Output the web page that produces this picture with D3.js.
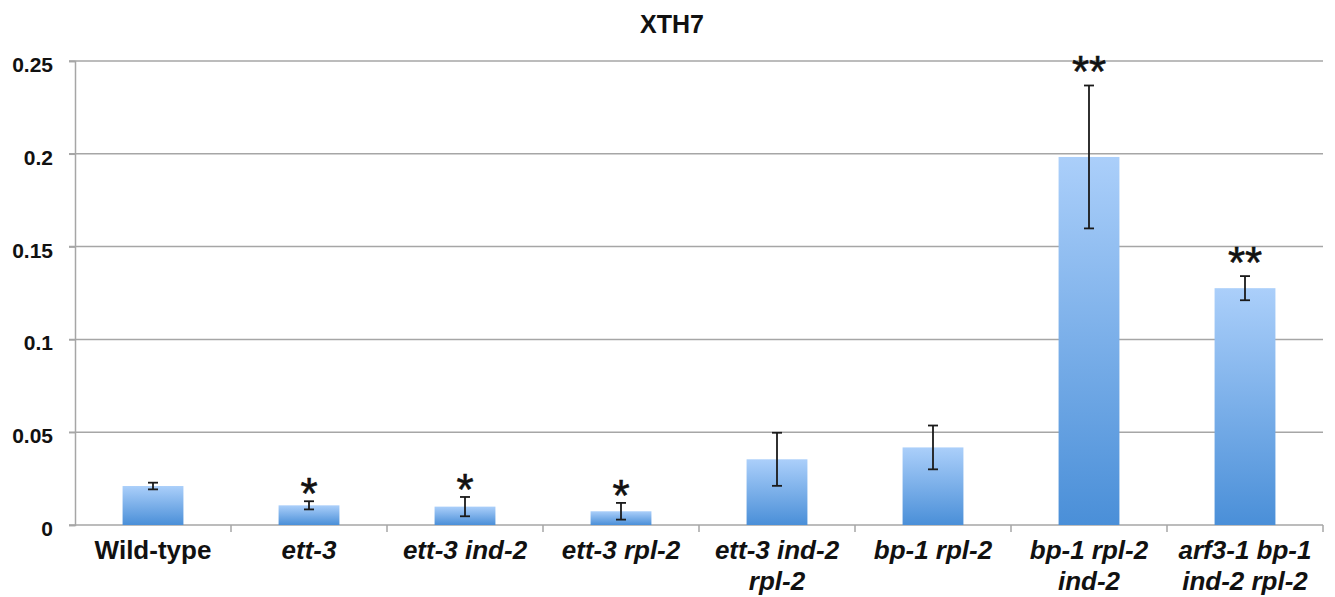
<!DOCTYPE html>
<html>
<head>
  <meta charset="utf-8">
  <title>XTH7</title>
  <script src="https://d3js.org/d3.v7.min.js"></script>
  <style>
    body { margin: 0; background: #fff; }
    text { font-family: "Liberation Sans", Arial, sans-serif; }
  </style>
</head>
<body>
<div id="vis"></div>
<script>
  // values
  var genotypes = ['Wild-type', 'ett-3', 'ett-3 ind-2', 'ett-3 rpl-2', 'ett-3 ind-2|rpl-2',
    'bp-1 rpl-2', 'bp-1 rpl-2|ind-2', 'arf3-1 bp-1|ind-2 rpl-2'];
  var means = [0.021, 0.0106, 0.0099, 0.0074, 0.0354, 0.0418, 0.1983, 0.1276];
  var errs = [0.0018, 0.0022, 0.0052, 0.0045, 0.0143, 0.0118, 0.0385, 0.0065];
  var stars = ['', '*', '*', '*', '', '', '**', '**'];
  var yTicks = [0, 0.05, 0.1, 0.15, 0.2, 0.25];
  var yTickLabels = ['0', '0.05', '0.1', '0.15', '0.2', '0.25'];

  var width = 1335, height = 597;
  var margin = { left: 75, right: 12, top: 61, bottom: 72 };

  var svg = d3.select('#vis')
    .append('svg')
    .attr('width', width)
    .attr('height', height);

  var defs = svg.append('defs');
  var grad = defs.append('linearGradient')
    .attr('id', 'barGrad')
    .attr('x1', 0).attr('y1', 0).attr('x2', 0).attr('y2', 1);
  grad.append('stop').attr('offset', '0%').attr('stop-color', '#abcffa');
  grad.append('stop').attr('offset', '100%').attr('stop-color', '#4a8fd8');

  var x = d3.scaleBand()
    .domain(genotypes)
    .range([margin.left, width - margin.right])
    .paddingInner(0.61)
    .paddingOuter(0.305);

  var xOuter = d3.scaleBand()
    .domain(genotypes)
    .range([margin.left, width - margin.right]);

  var y = d3.scaleLinear()
    .domain([0, 0.25])
    .range([height - margin.bottom, margin.top]);

  // gridlines
  svg.append('g')
    .selectAll('line')
    .data(yTicks.slice(1))
    .enter()
    .append('line')
    .attr('x1', margin.left - 6)
    .attr('x2', width - margin.right)
    .attr('y1', d => y(d))
    .attr('y2', d => y(d))
    .attr('stroke', '#a6a6a6')
    .attr('stroke-width', 1.5);

  // y axis
  var yAxis = svg.append('g')
    .attr('transform', 'translate(' + margin.left + ',0)')
    .call(d3.axisLeft(y).tickValues(yTicks)
      .tickFormat((d, i) => yTickLabels[i]).tickSize(6).tickPadding(16));
  yAxis.select('.domain').attr('stroke', '#a6a6a6').attr('stroke-width', 1.5);
  yAxis.selectAll('.tick line').attr('stroke', '#a6a6a6').attr('stroke-width', 1.5);
  yAxis.selectAll('.tick text')
    .attr('font-size', 21)
    .attr('font-weight', 'bold')
    .attr('fill', '#111')
    .attr('dy', '0.5em')
    .style('font-family', '"Liberation Sans", Arial, sans-serif');

  // x axis line + boundary ticks
  var x0 = y(0);
  svg.append('line')
    .attr('x1', margin.left - 6).attr('x2', width - margin.right)
    .attr('y1', x0).attr('y2', x0)
    .attr('stroke', '#a6a6a6').attr('stroke-width', 1.5);
  svg.append('g')
    .selectAll('line')
    .data(genotypes)
    .enter()
    .append('line')
    .attr('x1', d => xOuter(d) + xOuter.bandwidth())
    .attr('x2', d => xOuter(d) + xOuter.bandwidth())
    .attr('y1', x0).attr('y2', x0 + 7)
    .attr('stroke', '#a6a6a6').attr('stroke-width', 1.5);

  // bars
  svg.append('g')
    .selectAll('rect')
    .data(genotypes)
    .enter()
    .append('rect')
    .attr('x', d => x(d))
    .attr('width', x.bandwidth())
    .attr('y', (d, i) => y(means[i]))
    .attr('height', (d, i) => y(0) - y(means[i]))
    .attr('fill', 'url(#barGrad)');

  // error bars
  var eb = svg.append('g')
    .selectAll('g')
    .data(genotypes)
    .enter()
    .append('g')
    .attr('stroke', '#1a1a1a')
    .attr('stroke-width', 1.8);
  var cx = d => x(d) + x.bandwidth() / 2;
  eb.append('line')
    .attr('x1', cx).attr('x2', cx)
    .attr('y1', (d, i) => y(means[i] + errs[i]))
    .attr('y2', (d, i) => y(means[i] - errs[i]));
  eb.append('line')
    .attr('x1', d => cx(d) - 5).attr('x2', d => cx(d) + 5)
    .attr('y1', (d, i) => y(means[i] + errs[i]))
    .attr('y2', (d, i) => y(means[i] + errs[i]));
  eb.append('line')
    .attr('x1', d => cx(d) - 5).attr('x2', d => cx(d) + 5)
    .attr('y1', (d, i) => y(means[i] - errs[i]))
    .attr('y2', (d, i) => y(means[i] - errs[i]));

  // significance stars
  svg.append('g')
    .selectAll('text')
    .data(genotypes)
    .enter()
    .append('text')
    .attr('x', cx)
    .attr('y', (d, i) => y(means[i] + errs[i]) + (stars[i].length > 1 ? 2 : 8))
    .attr('text-anchor', 'middle')
    .attr('font-size', 44)
    .attr('fill', '#111')
    .attr('stroke', '#111')
    .attr('stroke-width', 0.6)
    .text((d, i) => stars[i]);

  // category labels
  var lab = svg.append('g')
    .selectAll('text')
    .data(genotypes)
    .enter()
    .append('text')
    .attr('x', cx)
    .attr('y', 559)
    .attr('text-anchor', 'middle')
    .attr('font-size', 26)
    .attr('font-weight', 'bold')
    .attr('font-style', (d, i) => i === 0 ? 'normal' : 'italic')
    .attr('fill', '#111');
  lab.each(function (d) {
    var parts = d.split('|');
    var t = d3.select(this);
    parts.forEach(function (p, j) {
      t.append('tspan')
        .attr('x', cx(d))
        .attr('dy', j === 0 ? 0 : 31)
        .text(p);
    });
  });

  // title
  svg.append('text')
    .attr('x', 672)
    .attr('y', 33)
    .attr('text-anchor', 'middle')
    .attr('font-size', 25)
    .attr('font-weight', 'bold')
    .attr('fill', '#111')
    .text('XTH7');
</script>
</body>
</html>
